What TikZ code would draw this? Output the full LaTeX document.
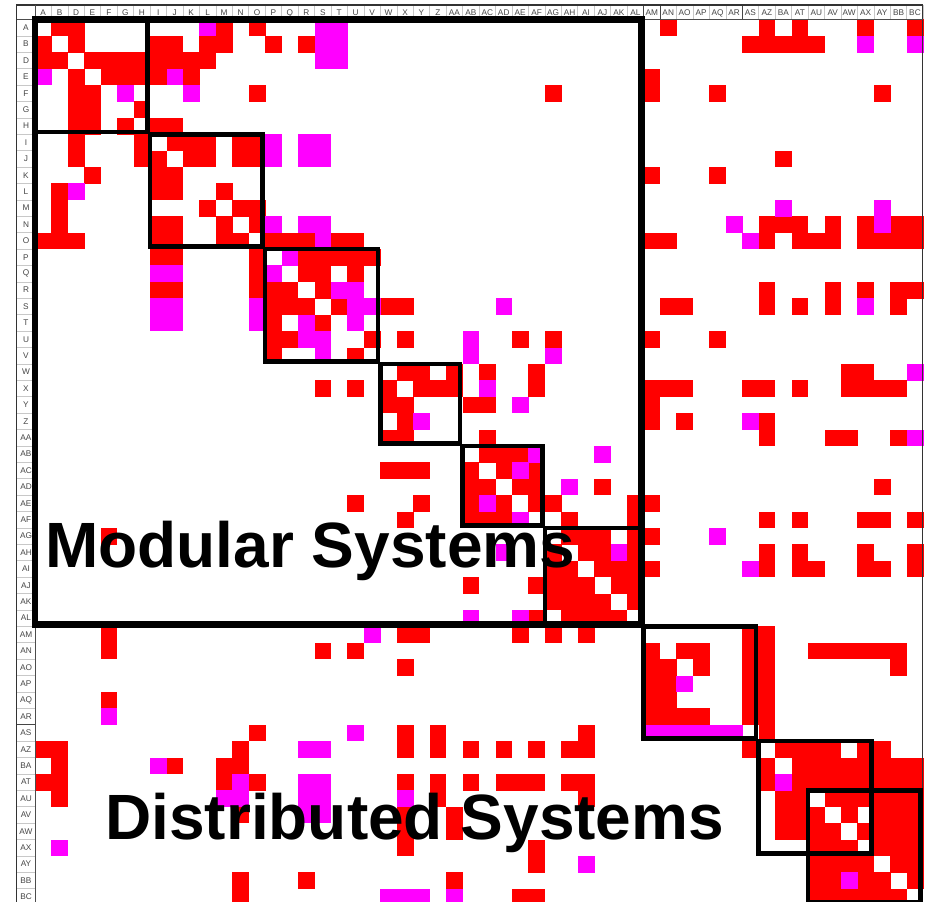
\documentclass[tikz,border=0pt]{standalone}
\usepackage{fontspec}
\setmainfont{Liberation Sans}
\definecolor{cellred}{RGB}{255,0,0}
\definecolor{cellmag}{RGB}{255,0,255}
\definecolor{gridgray}{RGB}{200,200,200}
\definecolor{labelgray}{RGB}{70,70,70}
\begin{document}
\begin{tikzpicture}[x=0.75pt,y=-0.75pt,
  redcell/.style={fill=cellred},
  magcell/.style={fill=cellmag},
  clusterbox/.style={draw=black,line width=3.4pt},
  bigbox/.style={draw=black,line width=5pt},
  headlabel/.style={inner sep=0pt,font=\fontsize{6.2}{6.2}\selectfont,text=labelgray},
  biglabel/.style={inner sep=0pt,anchor=base west,font=\fontsize{48}{48}\selectfont\bfseries}]
\def\xo{34.9}\def\yo{19.5}\def\cw{16.45}\def\ch{16.4}
\useasboundingbox (0,0) rectangle (928,902);
\fill[white] (0,0) rectangle (928,902);

% ---- matrix entries: red ----
\foreach \r/\cs in {
 0/{1,2,11,13,38,44,46,50,53},
 1/{0,2,7,8,10,11,14,16,43,44,45,46,47},
 2/{0,1,3,4,5,6,7,8,9,10},
 3/{2,4,5,6,7,9,37},
 4/{2,3,13,31,37,41,51},
 5/{2,3,6},
 6/{2,3,5,7,8},
 7/{2,6,8,9,10,12,13},
 8/{2,6,7,9,10,12,13,45},
 9/{3,7,8,37,41},
 10/{1,7,8,11},
 11/{1,10,12,13},
 12/{1,7,8,11,13,44,45,46,48,50,52,53},
 13/{0,1,2,7,8,11,12,14,15,16,18,19,37,38,44,46,47,48,50,51,52,53},
 14/{7,8,13,16,17,18,19,20},
 15/{13,16,17,19},
 16/{7,8,13,14,15,17,44,48,50,52,53},
 17/{14,15,16,18,21,22,38,39,44,46,48,52},
 18/{14,17},
 19/{14,15,20,22,29,31,37,41},
 20/{14,19},
 21/{22,23,25,27,30,49,50},
 22/{17,19,21,23,24,25,30,37,38,39,43,44,46,49,50,51,52},
 23/{21,22,26,27,37},
 24/{22,37,39,44},
 25/{21,22,27,44,48,49,52},
 26/{27,28,29},
 27/{21,22,23,26,28,30},
 28/{26,27,29,30,34,51},
 29/{19,23,26,28,30,31,36,37},
 30/{22,26,27,28,32,36,44,46,50,51,53},
 31/{4,32,33,34,36,37},
 32/{31,33,34,36,44,46,50,53},
 33/{31,32,34,35,36,37,44,46,47,50,51,53},
 34/{26,30,31,32,33,35,36},
 35/{31,32,33,34,36},
 36/{30,32,33,34,35},
 37/{4,22,23,29,31,33,43,44},
 38/{4,17,19,37,39,40,43,44,47,48,49,50,51,52},
 39/{22,37,38,40,43,44,52},
 40/{37,38,43,44},
 41/{4,37,38,43,44},
 42/{37,38,39,40,43,44},
 43/{13,22,24,33,44},
 44/{0,1,12,22,24,26,28,30,32,33,43,45,46,47,48,50,51},
 45/{1,8,11,12,44,46,47,48,49,50,51,52,53},
 46/{0,1,11,13,22,24,26,28,29,30,32,33,44,46,47,48,49,50,51,52,53},
 47/{1,24,33,45,46,48,49,50,51,52,53},
 48/{12,22,25,45,46,47,49,51,52,53},
 49/{22,25,45,46,47,48,50,51,52,53},
 50/{22,30,47,48,49,51,52,53},
 51/{30,47,48,49,50,52,53},
 52/{12,16,25,47,48,50,51,53},
 53/{12,29,30,47,48,49,50,51,52}}
 {\foreach \c in \cs {\path[redcell] ({\xo+\c*\cw},{\yo+\r*\ch}) rectangle ++(\cw+0.3,\ch+0.3);}}

% ---- matrix entries: magenta ----
\foreach \r/\cs in {
 0/{10,17,18}, 1/{17,18,50,53}, 2/{17,18}, 3/{0,8}, 4/{5,9},
 7/{14,16,17}, 8/{14,16,17}, 10/{2}, 11/{45,51}, 12/{14,16,17,42,51},
 13/{17,43}, 14/{15}, 15/{7,8,14}, 16/{18,19}, 17/{7,8,13,19,20,28,50},
 18/{7,8,13,16,19}, 19/{16,17,26}, 20/{17,26,31}, 21/{53}, 22/{27},
 23/{29}, 24/{23,43}, 25/{53}, 26/{30,34}, 27/{29}, 28/{32}, 29/{27},
 30/{29}, 31/{41}, 32/{28,35}, 33/{43}, 36/{26,29}, 37/{20}, 40/{39},
 42/{4}, 43/{19,37,38,39,40,41,42}, 44/{16,17}, 45/{7}, 46/{12,16,17,45},
 47/{11,12,16,17,22}, 48/{16,17}, 50/{1}, 51/{33}, 52/{49}, 53/{21,22,23,25}}
 {\foreach \c in \cs {\path[magcell] ({\xo+\c*\cw},{\yo+\r*\ch}) rectangle ++(\cw+0.3,\ch+0.3);}}

% ---- spreadsheet frame, header and row labels ----
\fill[white] (16.5,5) rectangle (923,\yo-0.5);
\fill[white] (16.5,5) rectangle (\xo-0.5,905);
\foreach \i in {0,...,54} {
  \draw[gridgray,line width=0.4pt] ({\xo+\i*\cw},5) -- ({\xo+\i*\cw},\yo);
  \draw[gridgray,line width=0.4pt] (16.5,{\yo+\i*\ch}) -- (\xo,{\yo+\i*\ch});
}
\foreach \lab [count=\i from 0] in {A,B,D,E,F,G,H,I,J,K,L,M,N,O,P,Q,R,S,T,U,V,W,X,Y,Z,AA,AB,AC,AD,AE,AF,AG,AH,AI,AJ,AK,AL,AM,AN,AO,AP,AQ,AR,AS,AZ,BA,AT,AU,AV,AW,AX,AY,BB,BC} {
  \node[headlabel] (colhead\i) at ({\xo+(\i+0.5)*\cw},13) {\lab};
  \node[headlabel] (rowhead\i) at (26,{\yo+(\i+0.5)*\ch}) {\lab};
}
\draw[labelgray,line width=0.6pt] ({\xo+37*\cw},5) -- ({\xo+37*\cw},\yo);
\draw[labelgray,line width=0.6pt] ({\xo+38*\cw},5) -- ({\xo+38*\cw},\yo);
\draw[labelgray,line width=0.6pt] ({\xo+43*\cw},5) -- ({\xo+43*\cw},\yo);
\draw[labelgray,line width=0.6pt] (16.5,{\yo+43*\ch}) -- (\xo,{\yo+43*\ch});
\draw[black!80,line width=0.8pt] (16.5,905) -- (16.5,5) -- (922.5,5) -- (922.5,905);
\draw[black!70,line width=0.5pt] (16.5,\yo) -- (922.5,\yo);
\draw[black!70,line width=0.5pt] (\xo,5) -- (\xo,905);

% ---- cluster boxes ----
\foreach \a/\b in {0/7,7/14,14/21,21/26,26/31,31/37,37/44,44/51,47/54}
  {\draw[clusterbox] ({\xo+\a*\cw},{\yo+\a*\ch}) rectangle ({\xo+\b*\cw-2.5},{\yo+\b*\ch-2.5});}
\draw[bigbox] (\xo,\yo) rectangle ({\xo+37*\cw-2},{\yo+37*\ch-2});

% ---- titles ----
\node[biglabel] (modular) at (45,567) {Modular Systems};
\node[biglabel] (distributed) at (105,839) {Distributed Systems};
\end{tikzpicture}
\end{document}
